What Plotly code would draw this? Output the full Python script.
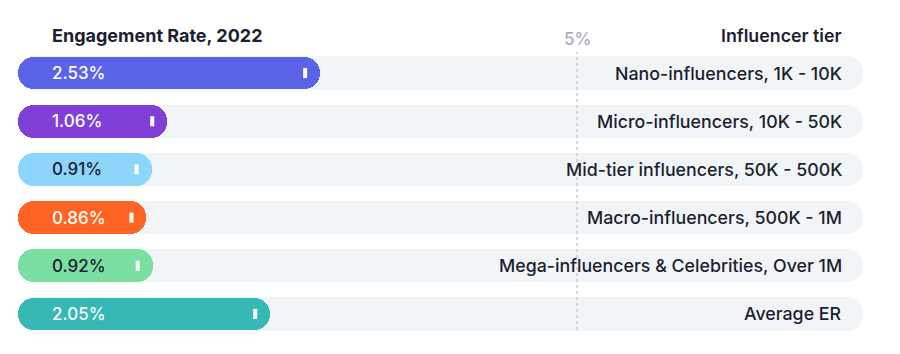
import plotly.graph_objects as go

tiers = ["Nano-influencers, 1K - 10K", "Micro-influencers, 10K - 50K",
         "Mid-tier influencers, 50K - 500K", "Macro-influencers, 500K - 1M",
         "Mega-influencers & Celebrities, Over 1M", "Average ER"]
rates = [2.53, 1.06, 0.91, 0.86, 0.92, 2.05]
labels = ["2.53%", "1.06%", "0.91%", "0.86%", "0.92%", "2.05%"]
colors = ["#5B63E8", "#8040D8", "#8ED5FB", "#FF6422", "#7BDFA1", "#36B8B4"]
label_colors = ["#FFFFFF", "#FFFFFF", "#1B2033", "#FFFFFF", "#1B2033", "#FFFFFF"]
ref_value = 5
ref_label = "5%"

W, H = 900, 354
px0, k = 57.0, 104.0            # pixel of zero and pixels per percentage point
xmin = -px0 / k
xmax = xmin + W / k
start = (18 - px0) / k           # left end of pills
track_end = (863 - px0) / k
T, B = 49, 16
ph = H - T - B

def ypaper(py):
    return (H - B - py) / ph

ys = list(range(len(tiers)))
FONT = "Inter"
DARK = "#1B1F30"

fig = go.Figure()
fig.add_trace(go.Bar(y=ys, x=[track_end - start] * len(ys), base=start, orientation="h",
                     marker=dict(color="#F2F5F8", cornerradius=16, line=dict(width=0)),
                     width=0.69, hoverinfo="skip", showlegend=False))
fig.add_trace(go.Bar(y=ys, x=[v - start for v in rates], base=start, orientation="h",
                     marker=dict(color=colors, cornerradius=16, line=dict(width=0)),
                     width=0.68, showlegend=False))

shapes = []
for i, v in enumerate(rates):
    shapes.append(dict(type="rect", xref="x", yref="y", xsizemode="pixel", ysizemode="pixel",
                       xanchor=v, yanchor=i, x0=-17, x1=-13, y0=-5, y1=5,
                       fillcolor="white", line=dict(width=0), layer="above"))
shapes.append(dict(type="line", xref="x", yref="paper", x0=ref_value, x1=ref_value,
                   y0=ypaper(330), y1=ypaper(52),
                   line=dict(color="#C9CDD3", width=1.5, dash="dot"), layer="above"))

ann = []
for i, (lab, c) in enumerate(zip(labels, label_colors)):
    ann.append(dict(x=50 / W, xref="paper", y=i, yref="y", text=lab, showarrow=False,
                    xanchor="left", yanchor="middle",
                    font=dict(family=FONT, size=17, color=c, weight=500)))
for i, t in enumerate(tiers):
    ann.append(dict(x=844 / W, xref="paper", y=i, yref="y", text=t, showarrow=False,
                    xanchor="right", yanchor="middle",
                    font=dict(family=FONT, size=17.8, color=DARK, weight=500)))
ann.append(dict(x=50 / W, xref="paper", y=ypaper(36), yref="paper", text="Engagement Rate, 2022",
                showarrow=False, xanchor="left", yanchor="middle",
                font=dict(family=FONT, size=18, color=DARK, weight=700)))
ann.append(dict(x=844 / W, xref="paper", y=ypaper(36), yref="paper",
                text="Influencer tier", showarrow=False, xanchor="right", yanchor="middle",
                font=dict(family=FONT, size=17.8, color=DARK, weight=600)))
ann.append(dict(x=ref_value, xref="x", y=ypaper(39), yref="paper",
                text=ref_label, showarrow=False, xanchor="center", yanchor="middle",
                font=dict(family=FONT, size=17, color="#A9AFB8", weight=500)))

fig.update_layout(
    width=W, height=H, margin=dict(l=0, r=0, t=T, b=B),
    paper_bgcolor="white", plot_bgcolor="white", barmode="overlay",
    xaxis=dict(range=[xmin, xmax], visible=False, fixedrange=True),
    yaxis=dict(range=[len(tiers) - 0.5, -0.5], visible=False, fixedrange=True),
    shapes=shapes, annotations=ann, bargap=0,
)
fig.write_html("out.html", config={"displayModeBar": False})
